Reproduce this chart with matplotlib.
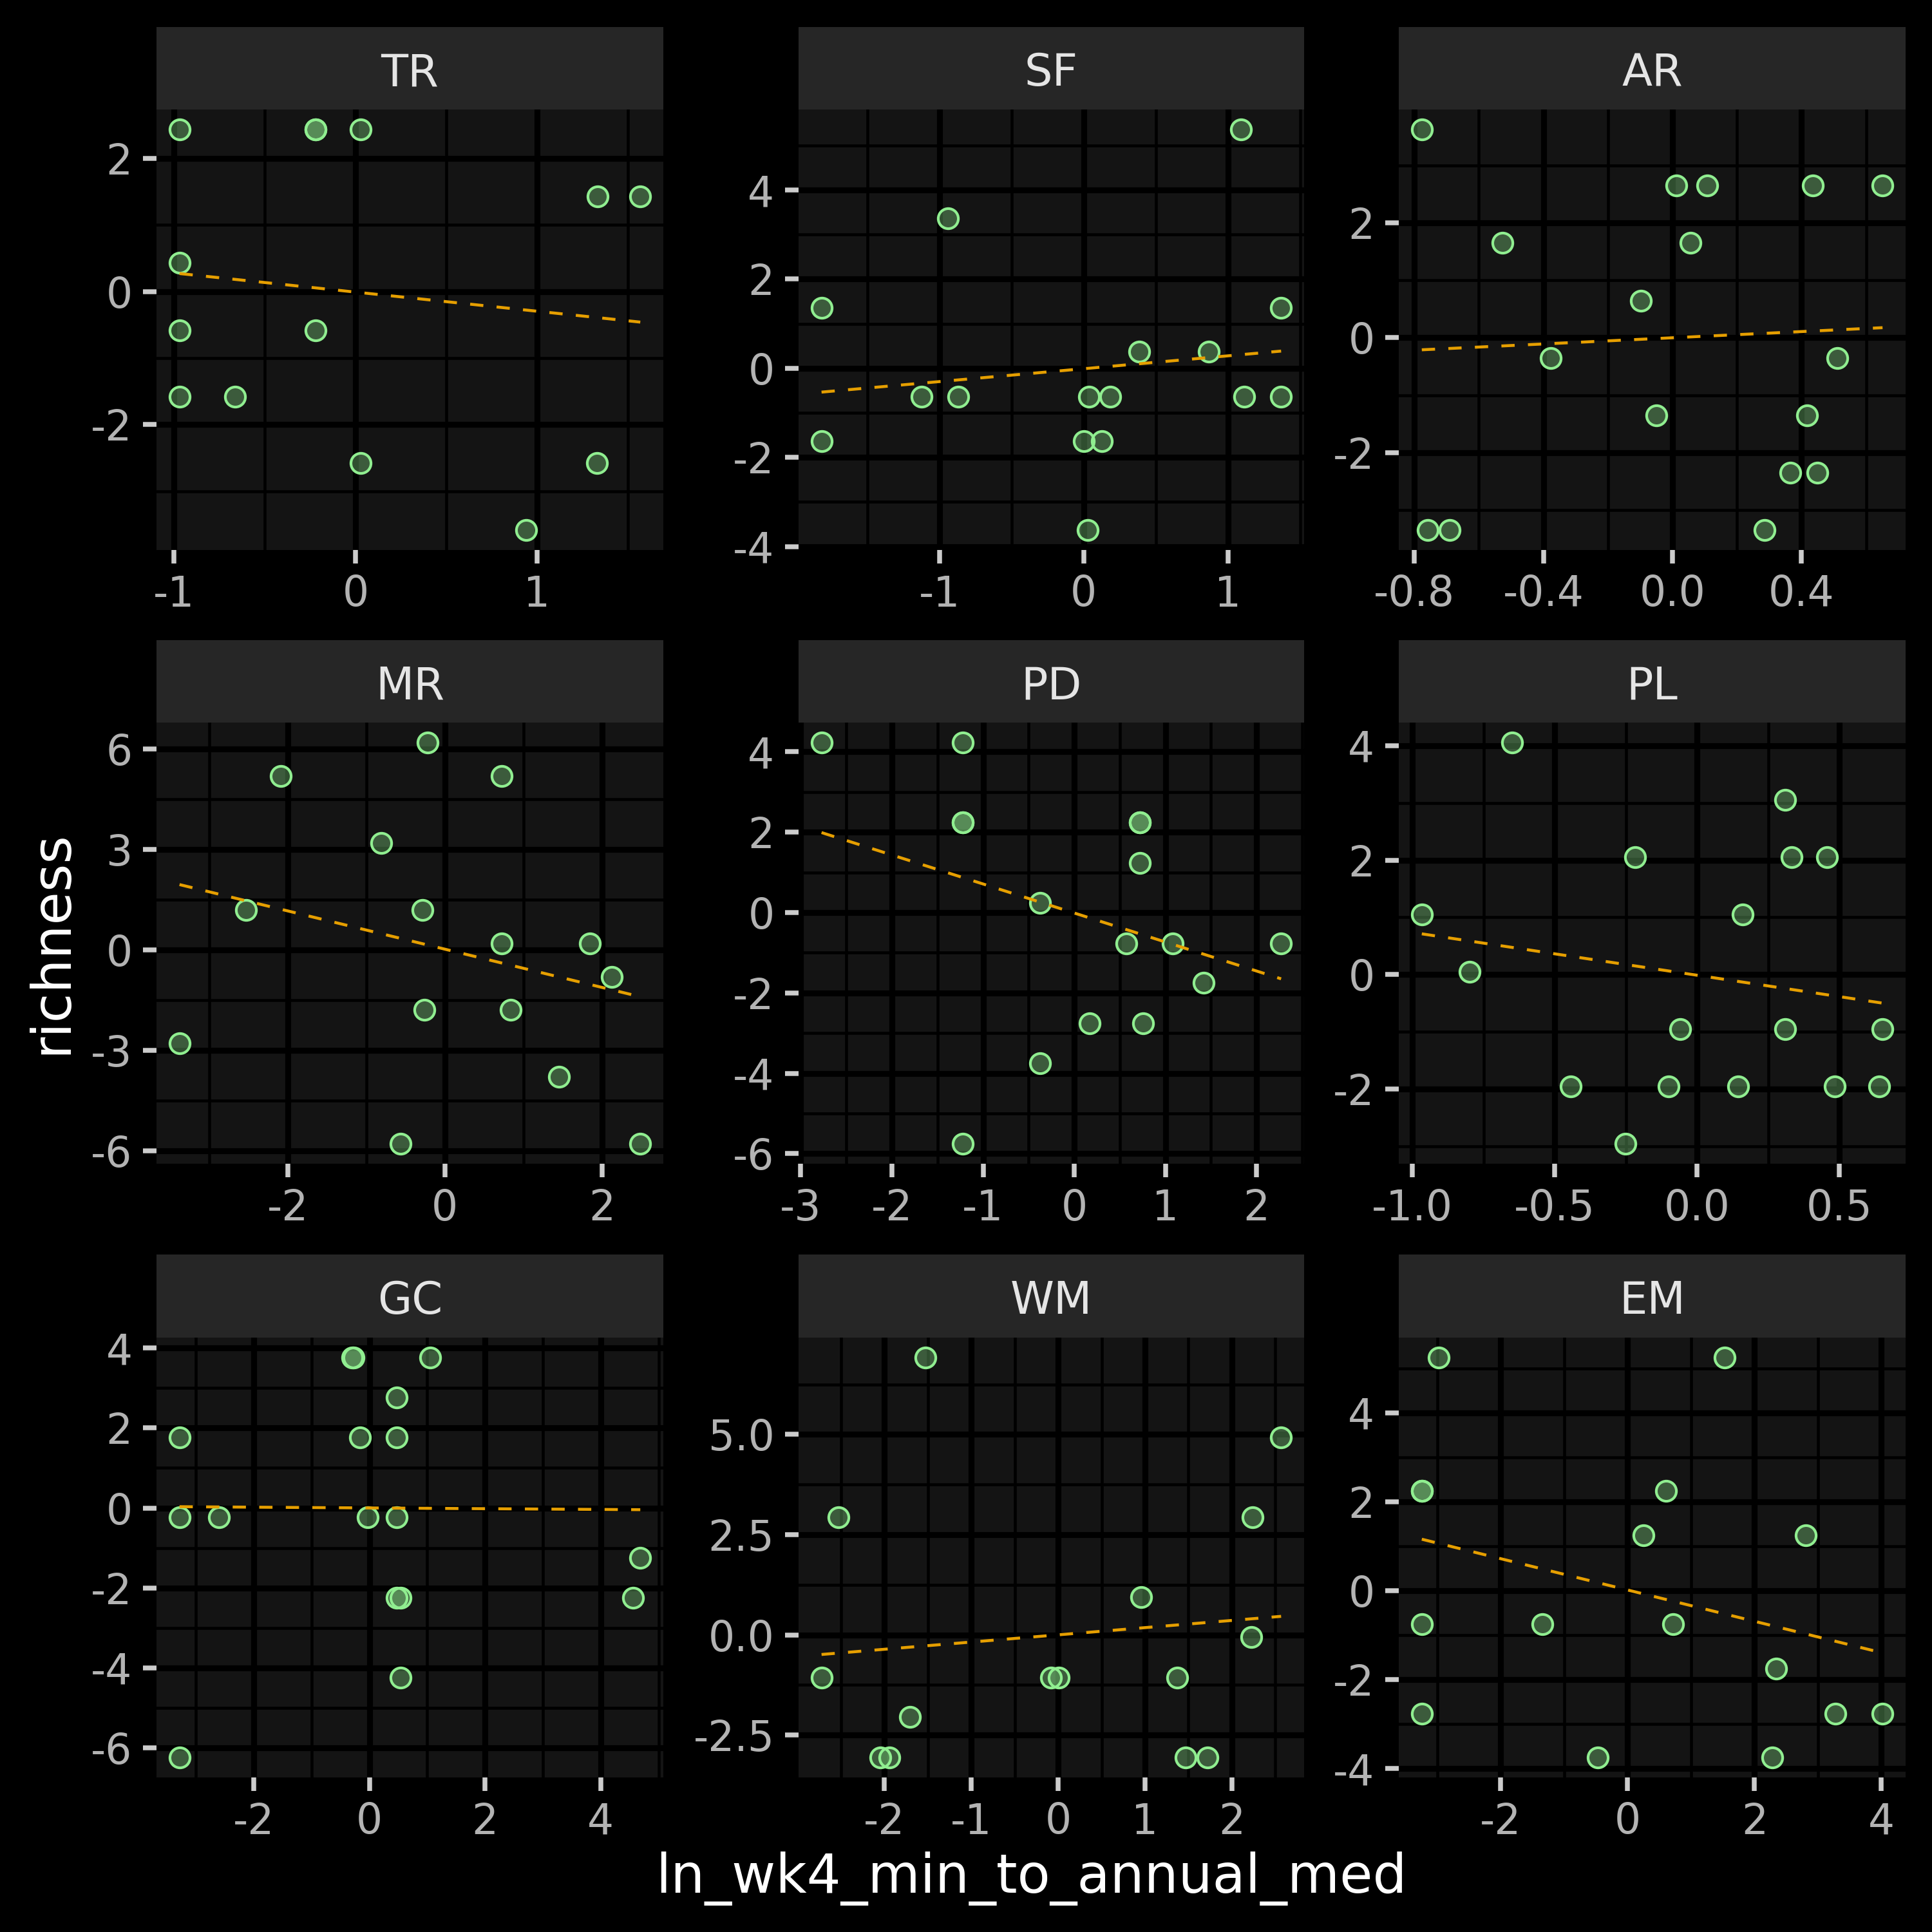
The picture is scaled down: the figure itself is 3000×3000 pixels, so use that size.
import numpy as np
import matplotlib
matplotlib.use("Agg")
import matplotlib.pyplot as plt
from matplotlib.ticker import MultipleLocator, FormatStrFormatter

plt.rcParams['font.family'] = ['DejaVu Sans']
plt.rcParams['axes.unicode_minus'] = False

# facet names in panel order
panels = ["TR", "SF", "AR", "MR", "PD", "PL", "GC", "WM", "EM"]

# points (x = ln_wk4_min_to_annual_med, y = richness)
tr_x = [-0.97, -0.22, -0.22, 0.03, 1.335, 1.57, -0.97, -0.97, -0.22, -0.97, -0.665, 0.03, 1.33, 0.94]
tr_y = [2.43, 2.43, 2.43, 2.43, 1.43, 1.43, 0.43, -0.58, -0.58, -1.58, -1.58, -2.58, -2.58, -3.58]

sf_x = [-1.818, -1.818, -0.94, -1.125, -0.872, 0.037, 0.182, 0.003, 0.128, 0.026, 0.384, 0.869, 1.091, 1.114, 1.369, 1.369]
sf_y = [1.36, -1.63, 3.37, -0.64, -0.64, -0.64, -0.64, -1.63, -1.63, -3.63, 0.37, 0.37, 5.36, -0.64, 1.36, -0.64]

ar_x = [-0.777, -0.528, -0.759, -0.69, -0.377, -0.097, -0.05, 0.012, 0.107, 0.056, 0.286, 0.366, 0.449, 0.418, 0.435, 0.511, 0.651]
ar_y = [3.63, 1.65, -3.35, -3.35, -0.35, 0.65, -1.35, 2.65, 2.65, 1.65, -3.35, -2.35, -2.35, -1.35, 2.65, -0.35, 2.65]

mr_x = [-3.379, -2.533, -2.088, -0.813, -0.22, -0.286, -0.258, -0.56, 0.725, 0.72, 0.841, 1.456, 1.846, 2.126, 2.489]
mr_y = [-2.8, 1.19, 5.19, 3.2, 6.19, 1.19, -1.8, -5.79, 5.19, 0.2, -1.8, -3.8, 0.2, -0.81, -5.79]

pd_x = [-2.772, -1.222, -1.222, -1.222, -1.222, -0.377, -0.377, 0.166, 0.571, 0.723, 0.723, 0.723, 0.755, 1.078, 1.42, 2.269]
pd_y = [4.23, 4.23, 2.24, 2.24, -5.75, 0.24, -3.75, -2.76, -0.76, 2.24, 2.24, 1.24, -2.76, -0.76, -1.75, -0.76]

pl_x = [-0.967, -0.8, -0.65, -0.443, -0.252, -0.217, -0.099, -0.06, 0.145, 0.16, 0.31, 0.31, 0.332, 0.457, 0.484, 0.641, 0.652]
pl_y = [1.05, 0.05, 4.05, -1.95, -2.95, 2.05, -1.95, -0.95, -1.95, 1.05, 3.05, -0.95, 2.05, 2.05, -1.95, -1.95, -0.95]

gc_x = [-3.281, -3.281, -3.281, -2.595, -0.30, -0.27, -0.157, -0.03, 0.47, 0.47, 0.47, 0.477, 0.537, 0.537, 1.051, 4.556, 4.683]
gc_y = [1.77, -0.23, -6.24, -0.23, 3.76, 3.76, 1.77, -0.23, 2.76, 1.77, -0.23, -2.24, -2.24, -4.24, 3.76, -2.24, -1.24]

wm_x = [-2.722, -2.524, -2.042, -1.943, -1.703, -1.528, -0.085, 0.009, 0.958, 1.368, 1.467, 1.717, 2.222, 2.241, 2.566]
wm_y = [-1.06, 2.94, -3.06, -3.06, -2.05, 6.92, -1.06, -1.06, 0.94, -1.06, -3.06, -3.06, -0.06, 2.94, 4.93]

em_x = [-3.243, -3.243, -3.243, -3.243, -2.972, -1.342, -0.474, 0.252, 0.603, 0.72, 1.526, 2.283, 2.345, 2.812, 3.274, 4.018]
em_y = [2.24, 2.24, -0.75, -2.76, 5.24, -0.75, -3.75, 1.25, 2.24, -0.75, 5.24, -3.75, -1.75, 1.25, -2.76, -2.76]

xs = [tr_x, sf_x, ar_x, mr_x, pd_x, pl_x, gc_x, wm_x, em_x]
ys = [tr_y, sf_y, ar_y, mr_y, pd_y, pl_y, gc_y, wm_y, em_y]

# dashed trend line per facet
slopes = [-0.287, 0.289, 0.27, -0.571, -0.722, -0.747, -0.0094, 0.18, -0.352]
intercepts = [-0.01, -0.01, 0.0, 0.02, -0.01, -0.01, 0.0, 0.0, 0.015]

# major tick spacing and decimals per facet
x_steps = [1, 1, 0.4, 2, 1, 0.5, 2, 1, 2]
y_steps = [2, 2, 2, 3, 2, 2, 2, 2.5, 2]
x_dec = [0, 0, 1, 0, 0, 1, 0, 0, 0]
y_dec = [0, 0, 0, 0, 0, 0, 0, 1, 0]

# layout in pixels of the 3000x3000 output
W = 3000.0
cols = [(243, 1030), (1240, 2025), (2172, 2959)]
rows = [(42, 170, 854), (994, 1122, 1807), (1948, 2077, 2760)]

fig = plt.figure(figsize=(10, 10), dpi=300, facecolor='black')

for i, name in enumerate(panels):
    c0, c1 = cols[i % 3]
    s0, p0, p1 = rows[i // 3]
    ax = fig.add_axes([c0 / W, 1 - p1 / W, (c1 - c0) / W, (p1 - p0) / W])
    ax.set_facecolor('#141414')
    for sp in ax.spines.values():
        sp.set_visible(False)

    x = np.array(xs[i])
    y = np.array(ys[i])
    ax.scatter(x, y, s=56, facecolor=(0.565, 0.933, 0.565, 0.33),
               edgecolor='#90EE90', linewidth=1.0, zorder=3)
    lx = np.array([x.min(), x.max()])
    ax.plot(lx, intercepts[i] + slopes[i] * lx, color='#E69F00',
            lw=1.1, linestyle=(0, (4.5, 4.5)), zorder=4)

    xr = x.max() - x.min()
    yr = y.max() - y.min()
    ax.set_xlim(x.min() - 0.05 * xr, x.max() + 0.05 * xr)
    ax.set_ylim(y.min() - 0.05 * yr, y.max() + 0.05 * yr)

    ax.xaxis.set_major_locator(MultipleLocator(x_steps[i]))
    ax.xaxis.set_minor_locator(MultipleLocator(x_steps[i] / 2))
    ax.yaxis.set_major_locator(MultipleLocator(y_steps[i]))
    ax.yaxis.set_minor_locator(MultipleLocator(y_steps[i] / 2))
    ax.xaxis.set_major_formatter(FormatStrFormatter('%.' + str(x_dec[i]) + 'f'))
    ax.yaxis.set_major_formatter(FormatStrFormatter('%.' + str(y_dec[i]) + 'f'))

    ax.grid(which='major', color='black', lw=2.2)
    ax.grid(which='minor', color='black', lw=1.1)
    ax.set_axisbelow(True)
    ax.tick_params(which='major', length=5, width=1.8, color='#CCCCCC',
                   labelsize=15.5, labelcolor='#B3B3B3', pad=4)
    ax.tick_params(which='minor', length=0)

    sax = fig.add_axes([c0 / W, 1 - p0 / W, (c1 - c0) / W, (p0 - s0) / W])
    sax.set_facecolor('#262626')
    sax.set_xticks([])
    sax.set_yticks([])
    for sp in sax.spines.values():
        sp.set_visible(False)
    sax.text(0.5, 0.44, name, ha='center', va='center', color='#E5E5E5',
             fontsize=16.5, transform=sax.transAxes)

fig.text(1601 / W, 1 - 2939 / W, 'ln_wk4_min_to_annual_med', ha='center',
         va='baseline', color='white', fontsize=20)
fig.text(80 / W, 1 - 1463 / W, 'richness', ha='center', va='center',
         rotation=90, color='white', fontsize=20)

fig.savefig('out.png', dpi=300, facecolor='black')
